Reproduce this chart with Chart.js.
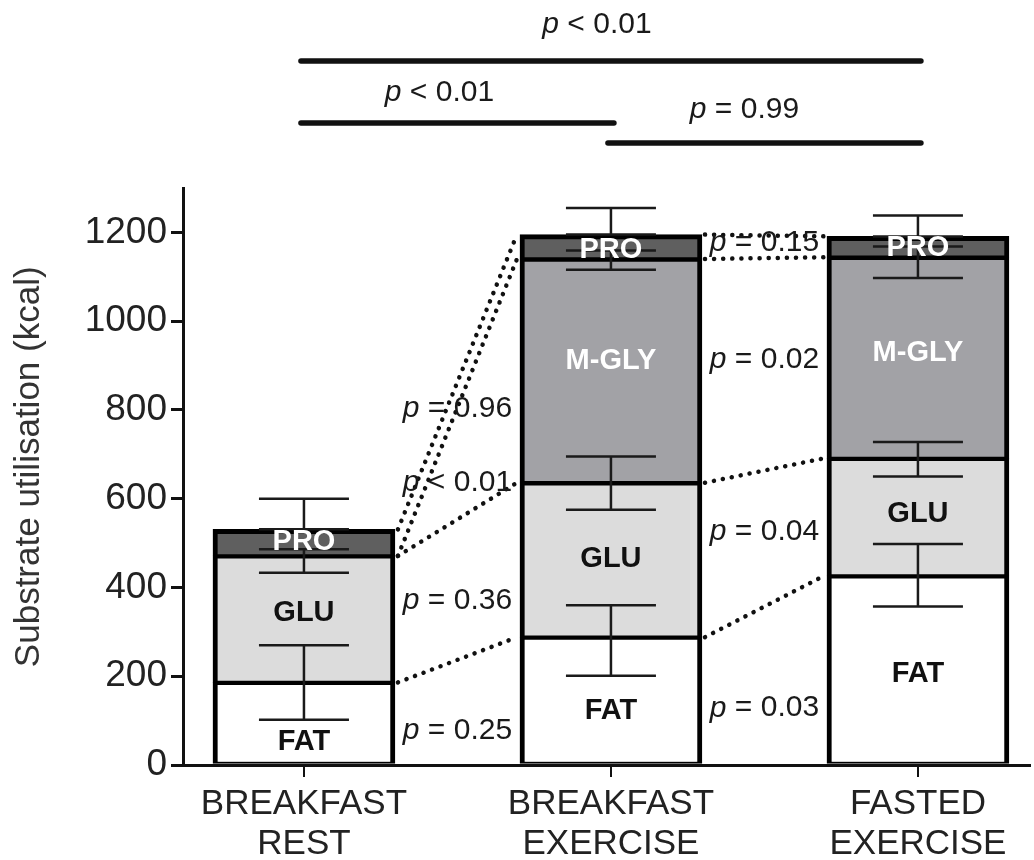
<!DOCTYPE html>
<html>
<head>
<meta charset="utf-8">
<script src="https://cdn.jsdelivr.net/npm/chart.js@4.4.0/dist/chart.umd.min.js"></script>
<style>
  html, body { margin: 0; padding: 0; background: #fff; }
</style>
</head>
<body>
<canvas id="grafico" width="1034" height="860"></canvas>
<script>
// categorias no eixo x (posicoes 1, 2, 3)
const categorias = [['BREAKFAST', 'REST'], ['BREAKFAST', 'EXERCISE'], ['FASTED', 'EXERCISE']];
const posicoes = [1, 2, 3];

// kcal por substrato
const nomes = ['FAT', 'GLU', 'M-GLY', 'PRO'];
const fat = [186, 288, 426];
const glu = [285, 348, 265];
const mgly = [null, 504, 453];
const pro = [60, 55, 47];

// barras de erro [inferior, superior], kcal acumulado
const errFat = [[102, 270], [201, 360], [357, 498]];
const errGlu = [[433, 486], [575, 695], [650, 728]];
const errMgly = [null, [1116, 1159], [1097, 1168]];
const errPro = [[531, 600], [1195, 1255], [1191, 1238]];

// valores p entre barras (de baixo para cima) e entre grupos
const pRestEx = ['= 0.25', '= 0.36', '< 0.01', '= 0.96'];
const pExFast = ['= 0.03', '= 0.04', '= 0.02', '= 0.15'];
const pGrupos = ['< 0.01', '< 0.01', '= 0.99']; // 1-3, 1-2, 2-3

const ticksY = [0, 200, 400, 600, 800, 1000, 1200];

// ---- layout (nao sao dados) ----
const FONTE = '"Liberation Sans", Arial, sans-serif';
const yPRestEx = [77, 370, 636, 803];
const yPExFast = [128, 525, 913, 1177];
const ajusteRotulo = [[17, 9, 3], [-7, -2, -4], [0, -11, -6], [-2, 2, 0]];
const corRotulo = ['#111', '#111', '#fff', '#fff'];
const chaves = [[1, 3, 61, 25, -14], [1, 2, 123, 93, -18], [2, 3, 143, 110, -20]];

const series = [fat, glu, mgly, pro];
const erros = [errFat, errGlu, errMgly, errPro];
const cores = ['#ffffff', '#dcdcdc', '#a2a2a6', '#5f5f5f'];

function textoP(c, texto, cx, cy) {
    c.font = 'italic 30px ' + FONTE;
    let wp = c.measureText('p').width;
    c.font = '30px ' + FONTE;
    let wr = c.measureText(' ' + texto).width;
    let x0 = cx - (wp + wr) / 2;
    c.textAlign = 'left';
    c.textBaseline = 'middle';
    c.fillStyle = '#1a1a1a';
    c.font = 'italic 30px ' + FONTE;
    c.fillText('p', x0, cy);
    c.font = '30px ' + FONTE;
    c.fillText(' ' + texto, x0 + wp, cy);
}

const anotacoes = {
    id: 'anotacoes',
    afterDatasetsDraw(chart) {
        const c = chart.ctx;
        const sx = chart.scales.x, sy = chart.scales.y;
        const barras = chart.getDatasetMeta(0).data;

        // topos acumulados
        let topos = series.map(() => []);
        for (let j = 0; j < posicoes.length; j++) {
            let soma = 0;
            series.forEach((s, k) => { soma += (s[j] || 0); topos[k][j] = soma; });
        }

        c.save();
        // linhas pontilhadas entre barras
        c.strokeStyle = '#111';
        c.lineWidth = 4.5;
        c.lineCap = 'round';
        c.setLineDash([0.1, 9]);
        for (let j = 0; j < posicoes.length - 1; j++) {
            let xa = barras[j].x + barras[j].width / 2 + 3;
            let xb = barras[j + 1].x - barras[j + 1].width / 2 - 3;
            topos.forEach(t => {
                c.beginPath();
                c.moveTo(xa, sy.getPixelForValue(t[j]));
                c.lineTo(xb, sy.getPixelForValue(t[j + 1]));
                c.stroke();
            });
        }
        c.setLineDash([]);

        // barras de erro
        c.strokeStyle = '#1a1a1a';
        c.lineWidth = 2.5;
        c.lineCap = 'butt';
        erros.forEach(e => {
            e.forEach((par, j) => {
                if (!par) return;
                let x = barras[j].x;
                let y1 = sy.getPixelForValue(par[0]), y2 = sy.getPixelForValue(par[1]);
                c.beginPath();
                c.moveTo(x, y1); c.lineTo(x, y2);
                c.moveTo(x - 45, y1); c.lineTo(x + 45, y1);
                c.moveTo(x - 45, y2); c.lineTo(x + 45, y2);
                c.stroke();
            });
        });

        // rotulos dos segmentos
        c.textAlign = 'center';
        c.textBaseline = 'middle';
        c.font = 'bold 29px ' + FONTE;
        series.forEach((s, k) => {
            s.forEach((v, j) => {
                if (!v) return;
                let base = topos[k][j] - v;
                let yc = sy.getPixelForValue(base + v / 2) + ajusteRotulo[k][j] + 1;
                c.fillStyle = corRotulo[k];
                c.fillText(nomes[k], barras[j].x, yc);
            });
        });

        // valores p entre barras
        const lacunas = [pRestEx, pExFast];
        const alturas = [yPRestEx, yPExFast];
        lacunas.forEach((lista, j) => {
            let cx = ((barras[j].x + barras[j].width / 2) + (barras[j + 1].x - barras[j + 1].width / 2)) / 2;
            lista.forEach((txt, i) => textoP(c, txt, cx, sy.getPixelForValue(alturas[j][i])));
        });

        // chaves de comparacao no topo
        c.strokeStyle = '#111';
        c.lineWidth = 5.5;
        c.lineCap = 'round';
        chaves.forEach((ch, i) => {
            let xa = sx.getPixelForValue(ch[0]) - 3, xb = sx.getPixelForValue(ch[1]) + 3;
            c.beginPath();
            c.moveTo(xa, ch[2]); c.lineTo(xb, ch[2]);
            c.stroke();
            textoP(c, pGrupos[i], (xa + xb) / 2 + ch[4], ch[3]);
        });
        c.restore();
    }
};

let datasets = series.map((s, k) => ({
    label: nomes[k],
    data: posicoes.map((x, j) => ({ x: x, y: s[j] })),
    backgroundColor: cores[k],
    borderColor: '#000',
    borderWidth: { top: k === 3 ? 5 : 3, bottom: 2, left: 5, right: 5 },
    borderSkipped: false,
    barThickness: 182
}));

let config = {
    type: 'bar',
    data: { datasets: datasets },
    options: {
        responsive: false,
        animation: false,
        layout: { padding: { top: 188, right: 4, left: 0, bottom: 0 } },
        plugins: {
            legend: { display: false },
            tooltip: { enabled: false }
        },
        scales: {
            x: {
                type: 'linear',
                min: 0.606,
                max: 3.365,
                offset: false,
                stacked: true,
                afterBuildTicks: s => { s.ticks = posicoes.map(v => ({ value: v })); },
                afterFit: s => { s.height = 95; },
                grid: { offset: false, drawOnChartArea: false, drawTicks: true, tickLength: 12, color: '#111', lineWidth: 2 },
                border: { display: true, color: '#111', width: 3 },
                ticks: {
                    callback: v => categorias[v - 1],
                    font: { size: 35, family: FONTE, lineHeight: 1.15 },
                    color: '#222',
                    padding: 7,
                    maxRotation: 0,
                    autoSkip: false
                }
            },
            y: {
                min: 0,
                max: 1300,
                stacked: true,
                afterBuildTicks: s => { s.ticks = ticksY.map(v => ({ value: v })); },
                afterFit: s => { s.width = 183; },
                grid: { drawOnChartArea: false, drawTicks: true, tickLength: 12, color: '#111', lineWidth: 3 },
                border: { display: true, color: '#111', width: 3 },
                ticks: {
                    callback: v => String(v),
                    font: { size: 37, family: FONTE },
                    color: '#222',
                    padding: 4
                },
                title: {
                    display: true,
                    text: '  Substrate utilisation (kcal)',
                    font: { size: 35, family: FONTE },
                    color: '#333',
                    padding: { top: 8, bottom: 0 }
                }
            }
        }
    },
    plugins: [anotacoes]
};

new Chart(document.getElementById('grafico'), config);
</script>
</body>
</html>
